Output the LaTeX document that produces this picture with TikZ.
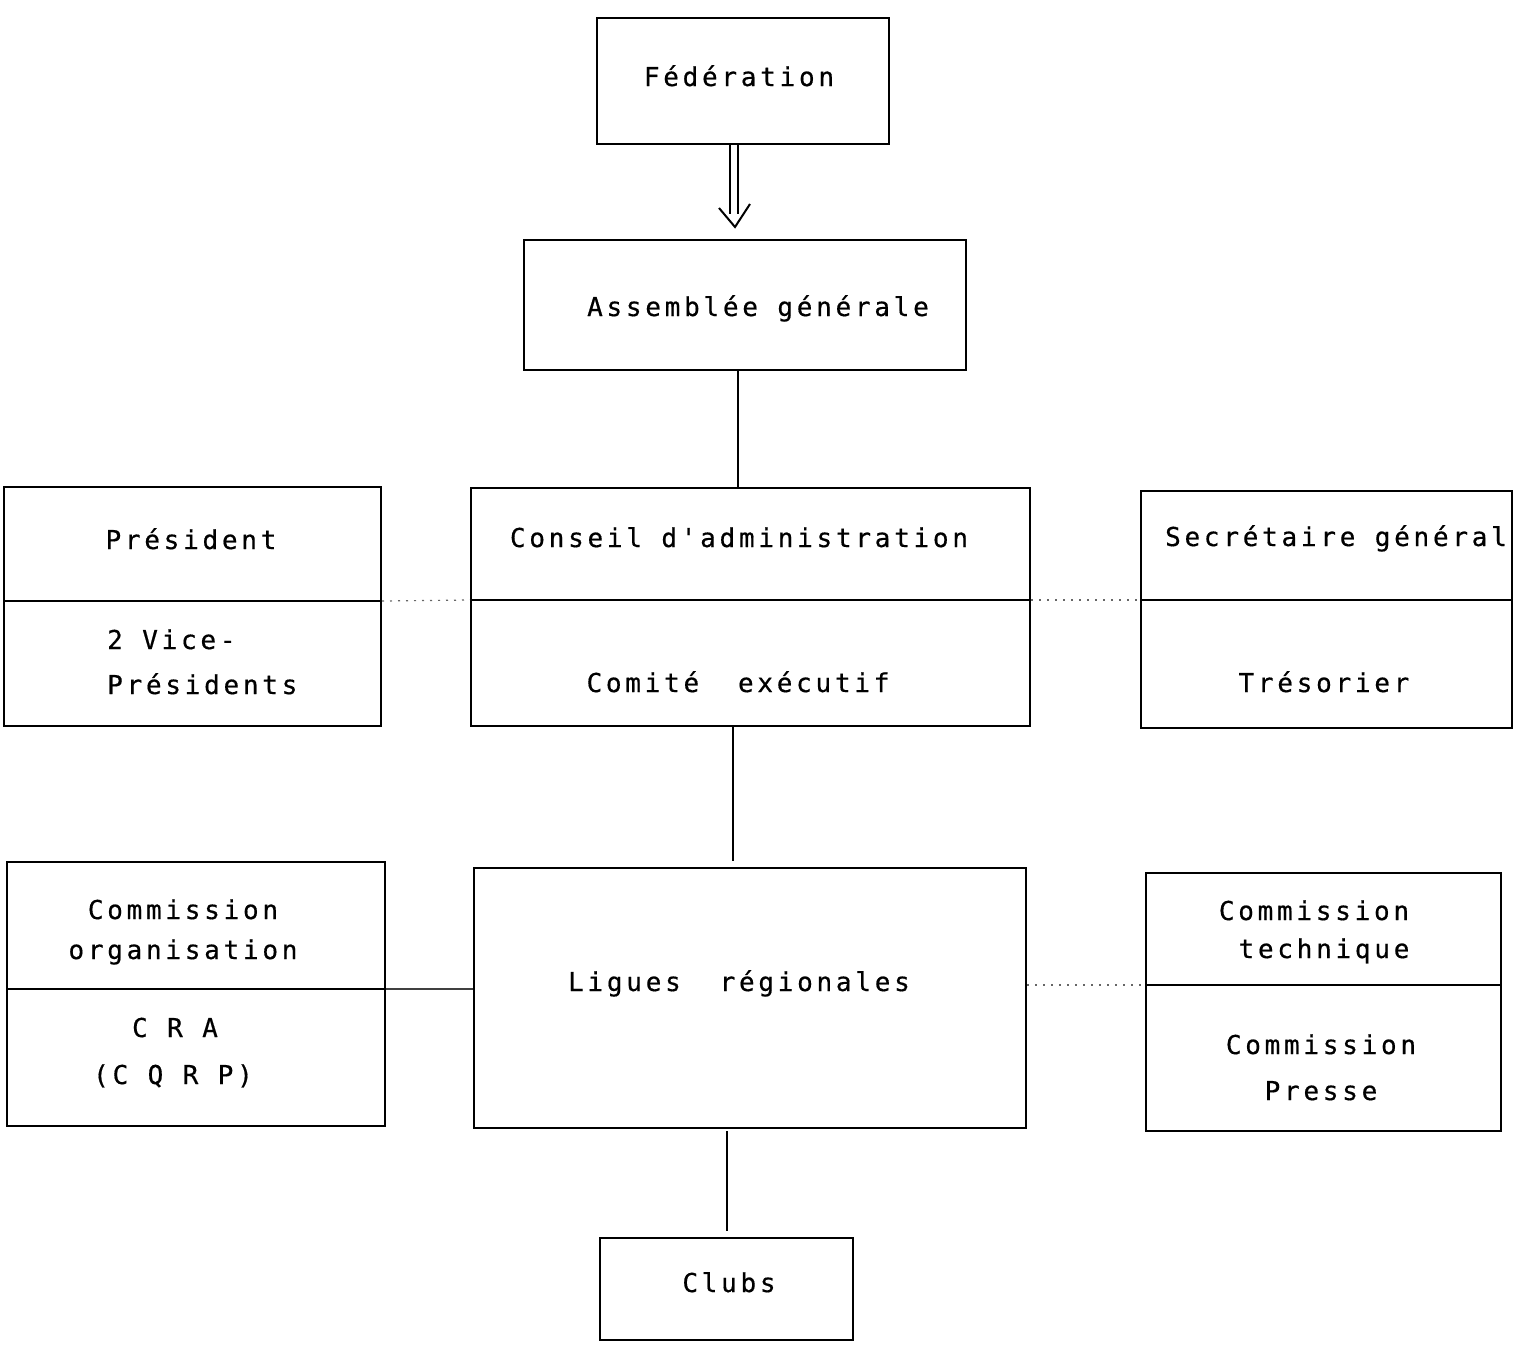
\documentclass[tikz,border=0pt]{standalone}
\usepackage{fontspec}
\newfontfamily\tw{DejaVu Sans Mono}[LetterSpace=14.4,Ligatures=TeXOff,FakeBold=0.5]
\begin{document}
\begin{tikzpicture}[x=1pt,y=-1pt,
  box/.style={draw,line width=2pt,rectangle,inner sep=0pt},
  lbl/.style={anchor=base,inner sep=0pt,font=\tw\fontsize{26}{30}\selectfont},
  lbll/.style={anchor=base west,inner sep=0pt,font=\tw\fontsize{26}{30}\selectfont},
  conn/.style={line width=2.4pt},
  divider/.style={line width=1.8pt},
  faint/.style={line width=1.2pt,black!60,dash pattern=on 2pt off 6pt},
  dbl/.style={line width=2pt,double distance=6.5pt}]
\fill[white] (0,0) rectangle (1515,1344);
\useasboundingbox (0,0) rectangle (1515,1344);

% boxes
\node[box,minimum width=292pt,minimum height=126pt] (fed) at (743,81) {};
\node[box,minimum width=442pt,minimum height=130pt] (ag) at (745,305) {};
\node[box,minimum width=559pt,minimum height=238pt] (ca) at (750.5,607) {};
\node[box,minimum width=377pt,minimum height=239pt] (pres) at (192.5,606.5) {};
\node[box,minimum width=371pt,minimum height=237pt] (sec) at (1326.5,609.5) {};
\node[box,minimum width=552pt,minimum height=260pt] (lig) at (750,998) {};
\node[box,minimum width=378pt,minimum height=264pt] (org) at (196,994) {};
\node[box,minimum width=355pt,minimum height=258pt] (tech) at (1323.5,1002) {};
\node[box,minimum width=253pt,minimum height=102pt] (clubs) at (726.5,1289) {};

% dividers
\coordinate (pres-dw) at (pres.west |- 0,601);
\coordinate (pres-de) at (pres.east |- 0,601);
\coordinate (ca-dw) at (ca.west |- 0,600);
\coordinate (ca-de) at (ca.east |- 0,600);
\coordinate (sec-dw) at (sec.west |- 0,600);
\coordinate (sec-de) at (sec.east |- 0,600);
\coordinate (org-dw) at (org.west |- 0,989);
\coordinate (org-de) at (org.east |- 0,989);
\coordinate (tech-dw) at (tech.west |- 0,985);
\coordinate (tech-de) at (tech.east |- 0,985);
\draw[divider] (pres-dw) -- (pres-de);
\draw[divider] (ca-dw) -- (ca-de);
\draw[divider] (sec-dw) -- (sec-de);
\draw[divider] (org-dw) -- (org-de);
\draw[divider] (tech-dw) -- (tech-de);

% texts
\node[lbl] (t-fed) at (739,86) {Fédération};
\node[lbl] (t-ag) at (758,316) {Assemblée générale};
\node[lbl] (t-pres) at (191,549) {Président};
\node[lbll] (t-vp1) at (107,649) {2 Vice-};
\node[lbll] (t-vp2) at (107,694) {Présidents};
\node[lbl] (t-ca) at (739,547) {Conseil d'administration};
\node[lbl] (t-ce) at (738,692) {Comité\ \ exécutif};
\node[lbl] (t-sec) at (1336,546) {Secrétaire général};
\node[lbl] (t-tres) at (1324,692) {Trésorier};
\node[lbl] (t-co1) at (183,919) {Commission};
\node[lbl] (t-co2) at (183,959) {organisation};
\node[lbl] (t-cra) at (175,1037) {C R A};
\node[lbl] (t-cqrp) at (173,1084) {(C Q R P)};
\node[lbl] (t-lig) at (739,991) {Ligues\ \ régionales};
\node[lbl] (t-ct1) at (1314,920) {Commission};
\node[lbl] (t-ct2) at (1324,958) {technique};
\node[lbl] (t-cp1) at (1321,1054) {Commission};
\node[lbl] (t-cp2) at (1321,1100) {Presse};
\node[lbl] (t-clubs) at (729,1292) {Clubs};

% connectors
\coordinate (dtop) at ([xshift=-9pt]fed.south);
\coordinate (tip) at (735,227);
\draw[dbl] (dtop) -- ([yshift=-69pt]dtop);
\draw[line width=2pt] (719,208) -- (tip) -- (750,204);
\draw[conn] ([xshift=-7pt]ag.south) -- ([xshift=-7pt]ag.south |- ca.north);
\draw[conn] ([xshift=-17.5pt]ca.south) -- ([xshift=-17.5pt,yshift=-134pt]ca.south);
\draw[conn] ([xshift=-23pt,yshift=-2pt]lig.south) -- ([xshift=-23pt,yshift=-102pt]lig.south);
\draw[faint] (pres-de) -- (ca-dw);
\draw[faint] (ca-de) -- (sec-dw);
\draw[line width=1.4pt,black!75] (org-de) -- (org-de -| lig.west);
\draw[faint] (lig.east |- tech-dw) -- (tech-dw);
\end{tikzpicture}
\end{document}
